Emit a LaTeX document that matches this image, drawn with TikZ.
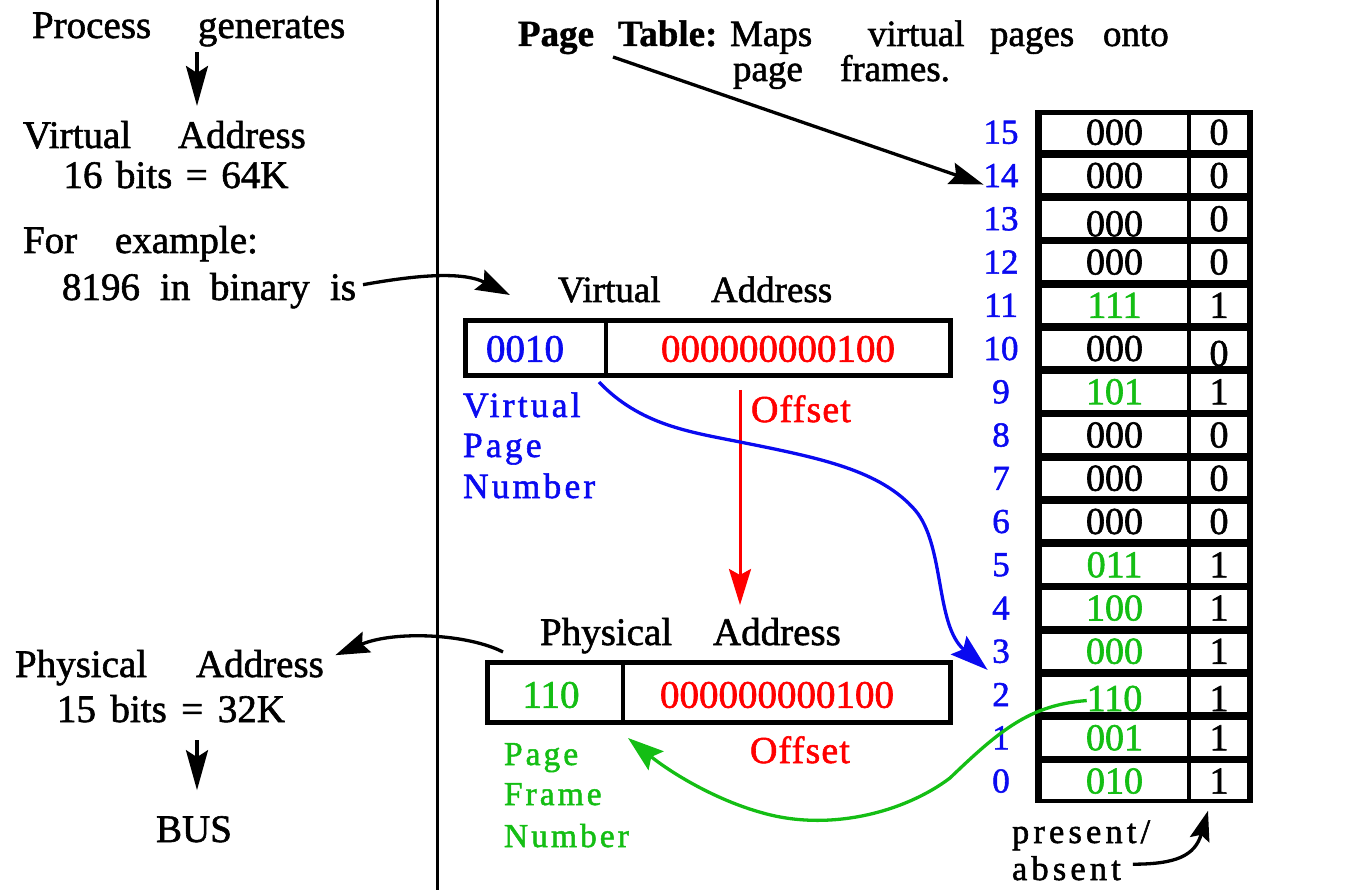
\documentclass[tikz,border=0pt]{standalone}
\usepackage{fontspec}
\setmainfont[FakeBold=1.5,BoldFont={Liberation Serif Bold},BoldFeatures={FakeBold=1}]{Liberation Serif}
\newfontfamily\widefont[FakeBold=1.5,LetterSpace=9]{Liberation Serif}
\newfontfamily\widerfont[FakeBold=1.5,LetterSpace=12]{Liberation Serif}
\newfontfamily\offfont[FakeBold=1.5,LetterSpace=3]{Liberation Serif}
\usetikzlibrary{arrows.meta}
\definecolor{pgblue}{RGB}{10,10,240}
\definecolor{pgred}{RGB}{255,0,0}
\definecolor{pggreen}{RGB}{20,190,20}

\begin{document}
\begin{tikzpicture}[x=1pt,y=-1pt,
  every node/.style={inner sep=0pt,outer sep=0pt},
  lefttxt/.style={font=\fontsize{39}{42}\selectfont,anchor=base west},
  leftmid/.style={font=\fontsize{39}{42}\selectfont,anchor=base},
  titletxt/.style={font=\fontsize{37}{40}\selectfont,anchor=base west},
  boxdig/.style={font=\fontsize{39}{42}\selectfont},
  celldig/.style={font=\fontsize{38}{41}\selectfont},
  idxnum/.style={font=\fontsize{35}{38}\selectfont,text=pgblue},
  vpnlbl/.style={font=\widefont\fontsize{35.5}{38}\selectfont,text=pgblue,anchor=base west},
  pfnlbl/.style={font=\widefont\fontsize{33.5}{36}\selectfont,text=pggreen,anchor=base west},
  offlbl/.style={font=\offfont\fontsize{38}{41}\selectfont,text=pgred,anchor=base west},
  pabs/.style={font=\widerfont\fontsize{34.5}{37}\selectfont,anchor=base west},
  addrbox/.style={draw=black,line width=5pt},
  divline/.style={line width=3.5pt},
  link/.style={line width=3.3pt},
  head/.style={-{Stealth[length=34pt,width=22pt,inset=5pt]}},
  downhead/.style={-{Stealth[length=40pt,width=22pt,inset=7pt]}},
  cellf/.style={fill=white,minimum width=145pt,minimum height=35.5pt},
  cellb/.style={fill=white,minimum width=56pt,minimum height=35.5pt}]

\useasboundingbox (0,0) rectangle (1371,890);

% divider between the explanation column and the mapping
\coordinate (dtop) at (437,0);
\coordinate (dbot) at (437,890);
\draw[line width=3pt] (dtop) -- (dbot);

% ---------- left column ----------
\coordinate (colx) at (197,0);
\node[lefttxt] (proc) at (32,38) {\makebox[166pt][l]{Process}generates};
\node[lefttxt] (vaddr) at (23,148) {\makebox[155pt][l]{Virtual}Address};
\node[leftmid] (vbits) at (176,188) {16\hspace{13.5pt}bits\hspace{13.5pt}=\hspace{13.5pt}64K};
\node[lefttxt] (forex) at (23,253) {\makebox[92pt][l]{For}example:};
\node[lefttxt] (binary) at (62,300) {\makebox[98pt][l]{8196}\makebox[50pt][l]{in}\makebox[120pt][l]{binary}is};
\node[lefttxt] (paddr) at (15,677) {\makebox[181pt][l]{Physical}Address};
\node[leftmid] (pbits) at (171,722) {15\hspace{14.5pt}bits\hspace{14.5pt}=\hspace{14.5pt}32K};
\node[leftmid] (bus) at (194,842) {BUS};

\draw[link,downhead,shorten <=6pt,shorten >=15pt] (proc.south -| colx) -- (vaddr.north -| colx);
\draw[link,downhead,shorten <=18pt,shorten >=26pt] (pbits.south -| colx) -- (bus.north -| colx);

% ---------- title ----------
\node[titletxt] (title) at (518,46) {\makebox[100pt][l]{\bfseries Page}\makebox[112pt][l]{\bfseries Table:}\makebox[138pt][l]{Maps}\makebox[122pt][l]{virtual}\makebox[113pt][l]{pages}onto};
\node[titletxt] (title2) at (733,81) {\makebox[107pt][l]{page}frames.};

% ---------- virtual address ----------
\node[titletxt] (valbl) at (558,302) {\makebox[153pt][l]{Virtual}Address};
\node[addrbox,minimum width=485pt,minimum height=55pt] (vabox) at (708,348) {};
\coordinate (vdiv) at (606,348);
\draw[divline] (vabox.north -| vdiv) -- (vabox.south -| vdiv);
\node[boxdig,text=pgblue] (vpn) at (525,349) {0010};
\node[boxdig,text=pgred] (voff) at (778,349) {000000000100};
\node[vpnlbl] (vpn1) at (463,417) {Virtual};
\node[vpnlbl] (vpn2) at (463,457) {Page};
\node[vpnlbl] (vpn3) at (463,498) {Number};
\node[offlbl] (voffl) at (751,422) {Offset};

% ---------- physical address ----------
\node[font=\fontsize{39}{42}\selectfont,anchor=base west] (palbl) at (540,645) {\makebox[173pt][l]{Physical}Address};
\node[addrbox,minimum width=463pt,minimum height=60pt] (pabox) at (719,692.5) {};
\coordinate (pdiv) at (623,692.5);
\draw[divline] (pabox.north -| pdiv) -- (pabox.south -| pdiv);
\node[boxdig,text=pggreen] (pfn) at (551,695) {110};
\node[boxdig,text=pgred] (poff) at (777,695) {000000000100};
\node[pfnlbl] (pfn1) at (504,765) {Page};
\node[pfnlbl] (pfn2) at (504,805) {Frame};
\node[pfnlbl] (pfn3) at (504,847) {Number};
\node[offlbl] (poffl) at (750,763) {Offset};

% ---------- page table ----------
\node[fill=black,minimum width=218pt,minimum height=693pt] (ptab) at (1144,456.5) {};
\foreach \i/\fr/\bt/\c/\df/\db in {
  15/000/0/black/0pt/0pt, 14/000/0/black/0pt/0pt, 13/000/0/black/-5pt/0pt,
  12/000/0/black/0pt/0pt, 11/111/1/pggreen/0pt/0pt, 10/000/0/black/0pt/-5pt,
  9/101/1/pggreen/0pt/0pt, 8/000/0/black/0pt/0pt, 7/000/0/black/0pt/0pt,
  6/000/0/black/0pt/0pt, 5/011/1/pggreen/0pt/0pt, 4/100/1/pggreen/0pt/0pt,
  3/000/1/pggreen/0pt/0pt, 2/110/1/pggreen/-4pt/-4pt, 1/001/1/pggreen/0pt/0pt,
  0/010/1/pggreen/0pt/0pt}{
  \pgfmathsetmacro\yc{110+(15-\i)*43.25+22.3}
  \node[cellf] (f\i) at (1114.5,\yc) {};
  \node[cellb] (b\i) at (1219,\yc) {};
  \node[celldig,text=\c] (tf\i) at ([yshift=\df]f\i.center) {\fr};
  \node[celldig] (tb\i) at ([yshift=\db]b\i.center) {\bt};
  \node[idxnum] (n\i) at (1001,\yc) {\i};
}
\node[pabs] (pres1) at (1012,843) {present/};
\node[pabs] (pres2) at (1012,880) {absent};

% ---------- connectors ----------
\coordinate (ptstart) at (613,57);
\draw[link,head] (ptstart) -- ([yshift=-9pt]n14.west);

\draw[link,head] ([xshift=7pt,yshift=6pt]binary.east) .. controls +(45,-8) and +(-50,-25) .. ([xshift=44.5pt,yshift=25.5pt]vabox.north west);

\draw[link,head] ([xshift=15.5pt,yshift=10.5pt]pabox.north west) .. controls +(-35,-18) and +(60,-25) .. ([xshift=11.5pt,yshift=12.5pt]paddr.east);

\coordinate (offtop) at (740,390);
\coordinate (offbot) at (740,605);
\draw[link,draw=pgred,-{Stealth[length=36pt,width=22pt,inset=6pt]},line width=3pt] (offtop) -- (offbot);

\coordinate (vpnout) at (599,382);
\coordinate (vpnmid) at (740,442);
\coordinate (vpnmid2) at (915,510);
\draw[link,draw=pgblue,-{Stealth[length=38pt,width=24pt,inset=6pt]}] (vpnout) .. controls (640,425) and (690,432) .. (vpnmid) .. controls (820,458) and (880,470) .. (vpnmid2) .. controls (945,545) and (935,625) .. ([xshift=-4.6pt,yshift=13pt]n2.north west);

\coordinate (pfnin) at (628,738);
\coordinate (gmid) at (950,778);
\coordinate (gmid2) at (763,813);
\draw[link,draw=pggreen,-{Stealth[length=36pt,width=24pt,inset=6pt]}] ([yshift=-2pt]tf2.west) .. controls (1030,705) and (1000,730) .. (gmid) .. controls (905,812) and (830,832) .. (gmid2) .. controls (715,800) and (670,772) .. (pfnin);

\draw[link,-{Stealth[length=30pt,width=20pt,inset=5pt]}] ([xshift=12pt,yshift=4pt]pres2.east) .. controls +(43,0) and +(-13,45) .. ([xshift=-11pt,yshift=-12pt]b0.south);

\end{tikzpicture}
\end{document}
